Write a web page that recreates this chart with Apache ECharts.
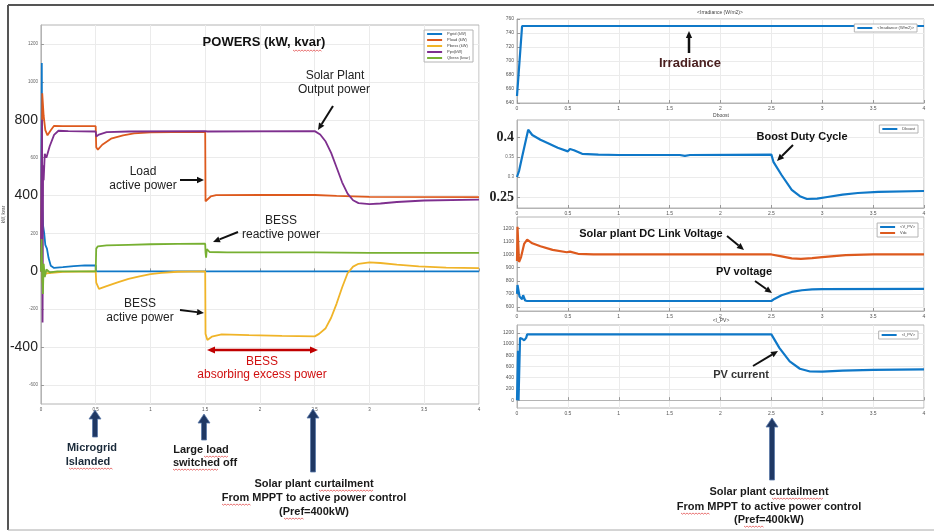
<!DOCTYPE html>
<html style="height: 100%">
<head>
    <meta charset="utf-8">
    <title>Microgrid powers</title>
    <style>body{margin:0;background:#fff}#container{width:934px;height:531px}</style>
</head>
<body>
    <div id="container"></div>
    <script type="text/javascript" src="https://cdn.jsdelivr.net/npm/echarts@6/dist/echarts.min.js"></script>
    <script type="text/javascript">
        // ---- data: [time (s), value] ----
        var gridP = [[0,0],[0.008,1100],[0.012,350],[0.02,240],[0.03,200],[0.04,140],[0.055,120],[0.07,70],[0.09,30],[0.12,18],[0.2,22],[0.3,28],[0.4,31],[0.5,32],[0.502,0],[4,0]];
        var loadP = [[0,0],[0.012,940],[0.025,820],[0.04,745],[0.06,718],[0.09,745],[0.12,768],[0.2,766],[0.5,766],[0.505,655],[0.52,642],[0.56,668],[0.64,700],[0.75,718],[0.85,728],[1.0,733],[1.2,735],[1.5,735],[1.503,370],[1.52,362],[1.55,395],[1.6,402],[2.0,403],[2.5,403],[2.7,398],[3.0,393],[4,392]];
        var bessP = [[0,0],[0.008,150],[0.014,-60],[0.02,40],[0.03,-20],[0.05,-10],[0.1,-8],[0.2,-3],[0.5,0],[0.505,-60],[0.53,-92],[0.6,-78],[0.7,-58],[0.8,-40],[0.9,-26],[1.0,-15],[1.1,-8],[1.25,-2],[1.5,0],[1.503,-330],[1.52,-362],[1.56,-345],[1.65,-333],[1.9,-337],[2.2,-341],[2.5,-343],[2.54,-330],[2.6,-300],[2.65,-245],[2.7,-170],[2.75,-85],[2.8,-10],[2.85,25],[2.9,40],[3.0,47],[3.1,44],[3.25,35],[3.45,26],[3.7,20],[4,17]];
        var pvP = [[0,0],[0.01,800],[0.015,-270],[0.02,560],[0.025,480],[0.035,620],[0.05,600],[0.08,660],[0.12,720],[0.16,742],[0.25,740],[0.5,738],[0.505,712],[0.53,722],[0.6,735],[0.8,738],[1.5,740],[1.505,748],[1.52,738],[2.5,740],[2.55,722],[2.6,685],[2.65,625],[2.7,548],[2.75,470],[2.8,410],[2.85,375],[2.9,360],[3.0,355],[3.1,358],[3.25,366],[3.5,374],[4,378]];
        var bessQ = [[0,0],[0.006,170],[0.012,-30],[0.018,-120],[0.025,40],[0.035,-30],[0.05,10],[0.08,-5],[0.15,0],[0.5,0],[0.505,120],[0.52,132],[0.6,137],[0.8,140],[1.0,143],[1.25,145],[1.5,146],[1.503,100],[1.508,72],[1.515,118],[1.54,102],[1.7,100],[2.5,100],[3.0,98],[4,98]];

        var irr = [[0,650],[0.05,750],[4,750]];
        var dboost = [[0,0.3],[0.02,0.315],[0.05,0.35],[0.11,0.418],[0.15,0.405],[0.23,0.393],[0.3,0.385],[0.4,0.373],[0.5,0.364],[0.52,0.37],[0.56,0.367],[0.64,0.358],[0.8,0.356],[1.0,0.355],[1.6,0.355],[1.65,0.353],[1.7,0.355],[2.5,0.356],[2.52,0.338],[2.6,0.305],[2.7,0.268],[2.78,0.252],[2.85,0.245],[2.95,0.246],[3.05,0.25],[3.2,0.256],[3.35,0.26],[3.55,0.263],[4,0.265]];
        var vdc = [[0,950],[0.005,1210],[0.02,943],[0.04,980],[0.07,1080],[0.1,1113],[0.15,1085],[0.23,1062],[0.35,1035],[0.49,1017],[0.52,1022],[0.6,1005],[0.75,1001],[1.0,1000],[2.5,1000],[2.6,985],[2.7,970],[2.79,967],[2.9,972],[3.0,980],[3.23,995],[3.5,1000],[4,1000]];
        var vpv = [[0,700],[0.005,768],[0.015,760],[0.025,680],[0.04,695],[0.05,660],[0.06,690],[0.07,680],[0.08,650],[0.1,646],[2.5,646],[2.53,662],[2.6,690],[2.7,715],[2.8,728],[2.9,734],[3.0,737],[4,738]];
        var ipv = [[0,0],[0.01,880],[0.015,0],[0.03,1110],[0.05,1095],[0.07,1065],[0.09,1110],[0.1,1172],[2.5,1172],[2.58,928],[2.68,690],[2.78,560],[2.88,511],[3.0,508],[3.2,525],[3.5,540],[4,548]];

        // tick values
        var powTicks = [-600,-400,-200,0,200,400,600,800,1000,1200];
        var powBig = [800,400,0,-400];
        var irrTicks = [640,660,680,700,720,740,760];
        var dTicks = [0.25,0.3,0.35,0.4];
        var dBig = [0.25,0.4];
        var vTicks = [600,700,800,900,1000,1100,1200];
        var iTicks = [0,200,400,600,800,1000,1200];

        var C = {blue:'#0f78c8', orange:'#dd5a1e', yellow:'#f0b428', purple:'#7e2f8e', green:'#77b032'};
        var FONT = '"Liberation Sans", Arial, sans-serif';

        var dom = document.getElementById("container");
        var myChart = echarts.init(dom, null, {renderer: 'canvas'});

        var grids = [
            {left: 40, right: 455, top: 25, height: 379},
            {left: 517, right: 10, top: 19, height: 84},
            {left: 517, right: 10, top: 120, height: 88},
            {left: 517, right: 10, top: 217, height: 94},
            {left: 517, right: 10, top: 325, height: 83}
        ];
        grids.forEach(function (g) {
            g.show = true; g.backgroundColor = '#fff'; g.borderColor = '#b4b4b4'; g.borderWidth = 1;
        });

        function plain(v) { return String(v); }

        function xAx(i) {
            return {
                type: 'value', gridIndex: i, min: 0, max: 4, interval: 0.5,
                axisLine: {lineStyle: {color: '#b4b4b4'}},
                axisTick: {inside: true, length: 3, lineStyle: {color: '#999'}},
                axisLabel: {fontSize: i === 0 ? 4.5 : 5, color: '#555', margin: 3, fontFamily: FONT, formatter: plain},
                splitLine: {lineStyle: {color: '#ebebeb'}}
            };
        }
        function yAx(i, min, max, ticks, fmt) {
            return {
                type: 'value', gridIndex: i, min: min, max: max,
                axisLine: {show: true, lineStyle: {color: '#b4b4b4'}},
                axisTick: {show: true, inside: true, length: 3, customValues: ticks, lineStyle: {color: '#999'}},
                axisLabel: {customValues: ticks, fontSize: 5, color: '#555', margin: 3, fontFamily: FONT, formatter: fmt || plain,
                    rich: {
                        big: {fontSize: 14, color: '#222', fontFamily: FONT},
                        bigs: {fontSize: 14, color: '#222', fontWeight: 'bold', fontFamily: '"Liberation Serif", serif'},
                        sm: {fontSize: 4.5, color: '#666', fontFamily: FONT}
                    }},
                splitLine: {lineStyle: {color: '#ebebeb'}}
            };
        }

        var yAxes = [
            yAx(0, -700, 1300, powTicks, function (v) {
                return powBig.indexOf(v) >= 0 ? '{big|' + v + '}' : '{sm|' + v + '}';
            }),
            yAx(1, 640, 760, irrTicks),
            yAx(2, 0.2225, 0.4425, dTicks, function (v) {
                var r = Math.round(v * 100) / 100;
                return dBig.indexOf(r) >= 0 ? '{bigs|' + r + '}' : '{sm|' + r + '}';
            }),
            yAx(3, 570, 1285, vTicks),
            yAx(4, -140, 1340, iTicks)
        ];
        yAxes[0].name = 'kW, kvar';
        yAxes[0].nameLocation = 'middle';
        yAxes[0].nameGap = 14;
        yAxes[0].nameTextStyle = {fontSize: 4.5, color: '#555'};

        function ln(name, data, color, gi, w) {
            return {
                name: name, type: 'line', data: data, xAxisIndex: gi, yAxisIndex: gi,
                showSymbol: false, symbol: 'none', color: color,
                lineStyle: {color: color, width: w}, animation: false, z: 3
            };
        }

        var series = [
            ln('Pgrid (kW)', gridP, C.blue, 0, 1.8),
            ln('Pload (kW)', loadP, C.orange, 0, 1.8),
            ln('Pbess (kW)', bessP, C.yellow, 0, 1.8),
            ln('Ppv(kW)', pvP, C.purple, 0, 1.8),
            ln('Qbess (kvar)', bessQ, C.green, 0, 1.8),
            ln('<Irradiance (W/m2)>', irr, C.blue, 1, 2.2),
            ln('Dboost', dboost, C.blue, 2, 2.2),
            ln('<V_PV>', vpv, C.blue, 3, 2.2),
            ln('Vdc', vdc, C.orange, 3, 2.2),
            ln('<I_PV>', ipv, C.blue, 4, 2.2)
        ];

        function lg(names, right, top) {
            return {
                data: names, orient: 'vertical', right: right, top: top, icon: 'rect',
                itemWidth: 15, itemHeight: 2, itemGap: 2, padding: [2, 3],
                textStyle: {fontSize: 4, color: '#444', fontFamily: FONT},
                borderColor: '#b4b4b4', borderWidth: 1, backgroundColor: '#fff', selectedMode: false
            };
        }
        var legends = [
            lg(['Pgrid (kW)', 'Pload (kW)', 'Pbess (kW)', 'Ppv(kW)', 'Qbess (kvar)'], 461, 30),
            lg(['<Irradiance (W/m2)>'], 17, 24),
            lg(['Dboost'], 16, 125),
            lg(['<V_PV>', 'Vdc'], 16, 223),
            lg(['<I_PV>'], 16, 331)
        ];

        // ---- annotations (pixel positions) ----
        var g = [];
        function txt(x, y, s, font, color) {
            g.push({type: 'text', z: 20, style: {text: s, x: x, y: y, font: font, fill: color || '#1a1a1a',
                textAlign: 'center', textVerticalAlign: 'middle', align: 'center', verticalAlign: 'middle'}});
        }
        function arrow(x1, y1, x2, y2, c, w, h, both) {
            var a = Math.atan2(y2 - y1, x2 - x1);
            var ca = Math.cos(a), sa = Math.sin(a);
            var px = -sa * h * 0.45, py = ca * h * 0.45;
            var bx = x2 - h * ca, by = y2 - h * sa;
            var sx = both ? x1 + h * ca : x1, sy = both ? y1 + h * sa : y1;
            g.push({type: 'line', z: 20, shape: {x1: sx, y1: sy, x2: bx, y2: by}, style: {stroke: c, lineWidth: w}});
            g.push({type: 'polygon', z: 20, shape: {points: [[x2, y2], [bx + px, by + py], [bx - px, by - py]]}, style: {fill: c}});
            if (both) {
                g.push({type: 'polygon', z: 20, shape: {points: [[x1, y1], [sx + px, sy + py], [sx - px, sy - py]]}, style: {fill: c}});
            }
        }
        function upArrow(x, top, bottom) {
            g.push({type: 'polygon', z: 20, shape: {points: [[x, top], [x + 6, top + 9], [x + 2.5, top + 9], [x + 2.5, bottom],
                [x - 2.5, bottom], [x - 2.5, top + 9], [x - 6, top + 9]]}, style: {fill: '#1f3864', stroke: '#5a78a8', lineWidth: 0.8}});
        }
        function squiggle(x1, x2, y) {
            var pts = [], k = 0;
            for (var x = x1; x <= x2; x += 1.5) { pts.push([x, y + (k++ % 2 ? 1.2 : 0)]); }
            g.push({type: 'polyline', z: 20, shape: {points: pts}, style: {stroke: '#e03c3c', lineWidth: 0.7, fill: null}});
        }

        var B11 = 'bold 11px ' + FONT;
        var N12 = '12px ' + FONT;

        // frame
        g.push({type: 'line', z: 30, shape: {x1: 8, y1: 5, x2: 934, y2: 5}, style: {stroke: '#555', lineWidth: 2}});
        g.push({type: 'line', z: 30, shape: {x1: 8, y1: 5, x2: 8, y2: 530}, style: {stroke: '#555', lineWidth: 2}});
        g.push({type: 'line', z: 30, shape: {x1: 8, y1: 530, x2: 934, y2: 530}, style: {stroke: '#aaa', lineWidth: 1}});

        // left panel
        txt(264, 42, 'POWERS (kW, kvar)', 'bold 13px ' + FONT, '#111');
        squiggle(293, 322, 50);
        txt(335, 76, 'Solar Plant', N12, '#222');
        txt(334, 90, 'Output power', N12, '#222');
        arrow(333, 106, 318, 130, '#111', 2, 7);
        txt(143, 172, 'Load', N12, '#222');
        txt(143, 186, 'active power', N12, '#222');
        arrow(180, 180, 204, 180, '#111', 2, 7);
        txt(281, 221, 'BESS', N12, '#222');
        txt(281, 235, 'reactive power', N12, '#222');
        arrow(238, 232, 213, 242, '#111', 2, 7);
        txt(140, 304, 'BESS', N12, '#222');
        txt(140, 318, 'active power', N12, '#222');
        arrow(180, 310, 204, 313, '#111', 2, 7);
        arrow(207, 350, 318, 350, '#c00000', 2.5, 8, true);
        txt(262, 362, 'BESS', N12, '#d01010');
        txt(262, 375, 'absorbing excess power', N12, '#d01010');

        upArrow(95, 410, 437);
        upArrow(204, 414, 440);
        upArrow(313, 409, 472);
        txt(92, 448, 'Microgrid', B11, '#1a2a3a');
        txt(88, 462, 'Islanded', B11, '#1a2a3a');
        squiggle(69, 113, 468);
        txt(201, 450, 'Large load', B11, '#1a1a1a');
        txt(205, 463, 'switched off', B11, '#1a1a1a');
        squiggle(204, 228, 456); squiggle(173, 219, 469);
        txt(314, 484, 'Solar plant curtailment', B11, '#1a1a1a');
        txt(314, 498, 'From MPPT to active power control', B11, '#1a1a1a');
        txt(314, 512, '(Pref=400kW)', B11, '#1a1a1a');
        squiggle(319, 373, 490); squiggle(222, 251, 504); squiggle(284, 304, 518);

        // right panels
        var T5 = '5px ' + FONT;
        txt(720, 13, '<Irradiance (W/m2)>', T5, '#444');
        txt(721, 116, 'Dboost', T5, '#444');
        txt(721, 321, '<I_PV>', T5, '#444');
        txt(690, 63, 'Irradiance', 'bold 13px ' + FONT, '#4a2020');
        arrow(689, 53, 689, 31, '#111', 2.5, 7);
        txt(802, 137, 'Boost Duty Cycle', B11, '#111');
        arrow(793, 145, 777, 161, '#111', 2, 7);
        txt(651, 234, 'Solar plant DC Link Voltage', B11, '#111');
        arrow(727, 236, 744, 250, '#111', 2, 7);
        txt(744, 272, 'PV voltage', B11, '#111');
        arrow(755, 281, 772, 293, '#111', 2, 7);
        txt(741, 375, 'PV current', B11, '#333');
        arrow(753, 366, 778, 351, '#111', 2, 7);
        upArrow(772, 418, 480);
        txt(769, 492, 'Solar plant curtailment', B11, '#1a1a1a');
        txt(769, 507, 'From MPPT to active power control', B11, '#1a1a1a');
        txt(769, 520, '(Pref=400kW)', B11, '#1a1a1a');
        squiggle(772, 824, 498); squiggle(681, 710, 513); squiggle(744, 764, 526);

        var option = {
            backgroundColor: '#fff',
            animation: false,
            grid: grids,
            xAxis: [xAx(0), xAx(1), xAx(2), xAx(3), xAx(4)],
            yAxis: yAxes,
            legend: legends,
            series: series,
            graphic: g
        };
        if (option && typeof option === "object") {
            myChart.setOption(option, true);
        }
    </script>
</body>
</html>
